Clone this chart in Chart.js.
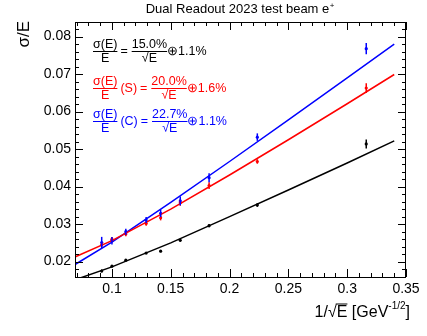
<!DOCTYPE html>
<html>
<head>
<meta charset="utf-8">
<script src="https://cdn.jsdelivr.net/npm/chart.js@4.4.0/dist/chart.umd.min.js"></script>
<style>
  body { margin: 0; background: #fff; }
</style>
</head>
<body>
<canvas id="resChart" width="427" height="336"></canvas>
<script>
// 1/sqrt(E) for E = 120, 100, 80, 60, 50, 40, 30, 20, 10 GeV
const invSqrtE = [0.0913, 0.1, 0.1118, 0.1291, 0.1414, 0.1581, 0.1826, 0.2236, 0.3162];

// combined (black), scintillation (red), cherenkov (blue)
const combined = [0.0175, 0.0188, 0.0204, 0.0223, 0.0228, 0.0257, 0.0296, 0.0351, 0.0514];
const combinedErr = [0.0004, 0.0003, 0.0003, 0.0003, 0.0003, 0.0004, 0.0004, 0.0005, 0.0012];
const scint = [0.0245, 0.0260, 0.0274, 0.0302, 0.0317, 0.0357, 0.0403, 0.0467, 0.0663];
const scintErr = [0.0007, 0.0006, 0.0006, 0.0006, 0.0007, 0.0008, 0.0009, 0.0006, 0.0013];
const cher = [0.0251, 0.0256, 0.0280, 0.0311, 0.0329, 0.0362, 0.0424, 0.0532, 0.0768];
const cherErr = [0.0015, 0.0010, 0.0008, 0.0008, 0.0010, 0.0012, 0.0012, 0.0010, 0.0015];

// fit curves
const fitX = [0.069, 0.1, 0.15, 0.2, 0.25, 0.3, 0.34];
const fitCombined = [0.0152, 0.0186, 0.0250, 0.0320, 0.0391, 0.0463, 0.0522];
const fitScint = [0.0213, 0.0256, 0.0340, 0.0431, 0.0525, 0.0621, 0.0699];
const fitCher = [0.0193, 0.0252, 0.0358, 0.0467, 0.0578, 0.0690, 0.0780];

const xTicks = [0.1, 0.15, 0.2, 0.25, 0.3, 0.35];
const yTicks = [0.02, 0.03, 0.04, 0.05, 0.06, 0.07, 0.08];

const FONT = "'Liberation Sans', Arial, sans-serif";

function pts(xs, ys) {
    return xs.map((v, i) => ({ x: v, y: ys[i] }));
}

function fitSet(ys, color) {
    return {
        data: pts(fitX, ys),
        showLine: true,
        borderColor: color,
        borderWidth: 1.5,
        pointRadius: 0,
        tension: 0
    };
}

function markSet(ys, errs, color) {
    return {
        data: pts(invSqrtE, ys),
        errs: errs,
        showLine: false,
        backgroundColor: color,
        borderColor: color,
        pointRadius: 1.6,
        pointBorderWidth: 0
    };
}

// vertical error bars
const errorBars = {
    id: 'errorBars',
    afterDatasetsDraw(chart) {
        const { ctx, scales: { x, y } } = chart;
        ctx.save();
        chart.data.datasets.forEach(ds => {
            if (!ds.errs) return;
            ctx.strokeStyle = ds.borderColor;
            ctx.lineWidth = 1.5;
            ds.data.forEach((p, i) => {
                const px = x.getPixelForValue(p.x);
                ctx.beginPath();
                ctx.moveTo(px, y.getPixelForValue(p.y - ds.errs[i]));
                ctx.lineTo(px, y.getPixelForValue(p.y + ds.errs[i]));
                ctx.stroke();
            });
        });
        ctx.restore();
    }
};

// ROOT style frame with inward ticks on all sides
const frame = {
    id: 'frame',
    afterDraw(chart) {
        const { ctx, chartArea: a, scales: { x, y } } = chart;
        ctx.save();
        ctx.strokeStyle = '#000';
        ctx.lineWidth = 1;
        ctx.strokeRect(a.left + 0.5, a.top + 0.5, a.right - a.left - 1, a.bottom - a.top);
        ctx.beginPath();
        for (let i = 7; i <= 35; i++) {
            const px = Math.round(x.getPixelForValue(i / 100)) + 0.5;
            const len = i % 5 === 0 ? 8 : 4;
            ctx.moveTo(px, a.bottom); ctx.lineTo(px, a.bottom - len);
            ctx.moveTo(px, a.top); ctx.lineTo(px, a.top + len);
        }
        for (let i = 8; i <= 41; i++) {
            const py = Math.round(y.getPixelForValue(i * 0.002)) + 0.5;
            const len = i % 5 === 0 ? 8 : 4;
            ctx.moveTo(a.left, py); ctx.lineTo(a.left + len, py);
            ctx.moveTo(a.right, py); ctx.lineTo(a.right - len, py);
        }
        ctx.stroke();

        // title
        ctx.fillStyle = '#000';
        ctx.font = '13px ' + FONT;
        ctx.textAlign = 'center';
        ctx.textBaseline = 'alphabetic';
        const t = 'Dual Readout 2023 test beam e';
        const tw = ctx.measureText(t).width;
        const tx = (a.left + a.right) / 2 - 3;
        ctx.fillText(t, tx, 13);
        ctx.font = '8px ' + FONT;
        ctx.textAlign = 'left';
        ctx.fillText('+', tx + tw / 2 + 0.5, 8);

        // y title
        ctx.save();
        ctx.translate(24, 21);
        ctx.rotate(-Math.PI / 2);
        ctx.font = '17px ' + FONT;
        ctx.textAlign = 'right';
        ctx.textBaseline = 'middle';
        ctx.fillText('σ/E', 0, 0);
        ctx.restore();

        // x title: 1/√E [GeV^-1/2]
        ctx.font = '16px ' + FONT;
        const base = 317;
        const parts1 = '1/√';
        const w1 = ctx.measureText(parts1).width;
        const wE = ctx.measureText('E').width;
        const w2 = ctx.measureText(' [GeV').width;
        ctx.font = '10px ' + FONT;
        const wSup = ctx.measureText('-1/2').width;
        ctx.font = '16px ' + FONT;
        const wEnd = ctx.measureText(']').width;
        let cx = 410 - (w1 + wE + w2 + wSup + wEnd);
        ctx.fillText(parts1, cx, base); cx += w1;
        ctx.fillText('E', cx, base);
        ctx.beginPath();
        ctx.moveTo(cx - 1, base - 13); ctx.lineTo(cx + wE, base - 13);
        ctx.stroke();
        cx += wE;
        ctx.fillText(' [GeV', cx, base); cx += w2;
        ctx.font = '10px ' + FONT;
        ctx.fillText('-1/2', cx, base - 8); cx += wSup;
        ctx.font = '16px ' + FONT;
        ctx.fillText(']', cx, base);

        drawLegend(ctx);
        ctx.restore();
    }
};

const fitRows = [
    { color: '#000000', tag: '', stoch: '15.0%', cons: '1.1%', bar: 51 },
    { color: '#ff0000', tag: '(S)', stoch: '20.0%', cons: '1.6%', bar: 88 },
    { color: '#0000ff', tag: '(C)', stoch: '22.7%', cons: '1.1%', bar: 121 }
];

function drawFrac(ctx, num, den, x, bar) {
    const wn = ctx.measureText(num).width;
    const wd = ctx.measureText(den).width;
    const w = Math.max(wn, wd);
    ctx.fillText(num, x + (w - wn) / 2, bar - 3.5);
    ctx.fillText(den, x + (w - wd) / 2, bar + 11);
    ctx.beginPath();
    ctx.moveTo(x, bar + 0.5); ctx.lineTo(x + w, bar + 0.5);
    ctx.stroke();
    return w;
}

function drawLegend(ctx) {
    ctx.font = '12.5px ' + FONT;
    ctx.textAlign = 'left';
    ctx.textBaseline = 'alphabetic';
    ctx.lineWidth = 1;
    fitRows.forEach(r => {
        ctx.fillStyle = r.color;
        ctx.strokeStyle = r.color;
        let x = 93;
        x += drawFrac(ctx, 'σ(E)', 'E', x, r.bar) + 3;
        if (r.tag) {
            ctx.fillText(r.tag, x, r.bar + 4);
            x += ctx.measureText(r.tag).width + 3;
        }
        ctx.fillText('=', x, r.bar + 4);
        x += ctx.measureText('=').width + 4;
        x += drawFrac(ctx, r.stoch, '√E', x, r.bar);
        ctx.fillText('⊕' + r.cons, x, r.bar + 4);
    });
}

const ctx = document.getElementById('resChart').getContext('2d');
new Chart(ctx, {
    type: 'scatter',
    data: {
        datasets: [
            fitSet(fitCombined, '#000000'),
            fitSet(fitScint, '#ff0000'),
            fitSet(fitCher, '#0000ff'),
            markSet(combined, combinedErr, '#000000'),
            markSet(scint, scintErr, '#ff0000'),
            markSet(cher, cherErr, '#0000ff')
        ]
    },
    options: {
        responsive: false,
        animation: false,
        layout: { padding: { top: 22, right: 21, left: 0, bottom: 0 } },
        plugins: {
            legend: { display: false },
            title: { display: false },
            tooltip: { enabled: false }
        },
        scales: {
            x: {
                type: 'linear',
                min: 0.0686,
                max: 0.35,
                grid: { display: false, drawTicks: false },
                border: { display: false },
                afterBuildTicks: s => { s.ticks = xTicks.map(v => ({ value: v })); },
                afterFit: s => { s.height = 59; },
                ticks: {
                    color: '#000',
                    font: { family: FONT, size: 14 },
                    padding: 4,
                    maxRotation: 0,
                    callback: v => String(v)
                }
            },
            y: {
                type: 'linear',
                min: 0.0159,
                max: 0.0839,
                grid: { display: false, drawTicks: false },
                border: { display: false },
                afterBuildTicks: s => { s.ticks = yTicks.map(v => ({ value: v })); },
                afterFit: s => { s.width = 75; },
                ticks: {
                    color: '#000',
                    font: { family: FONT, size: 14 },
                    padding: 4,
                    callback: v => String(v)
                }
            }
        }
    },
    plugins: [errorBars, frame]
});
</script>
</body>
</html>
